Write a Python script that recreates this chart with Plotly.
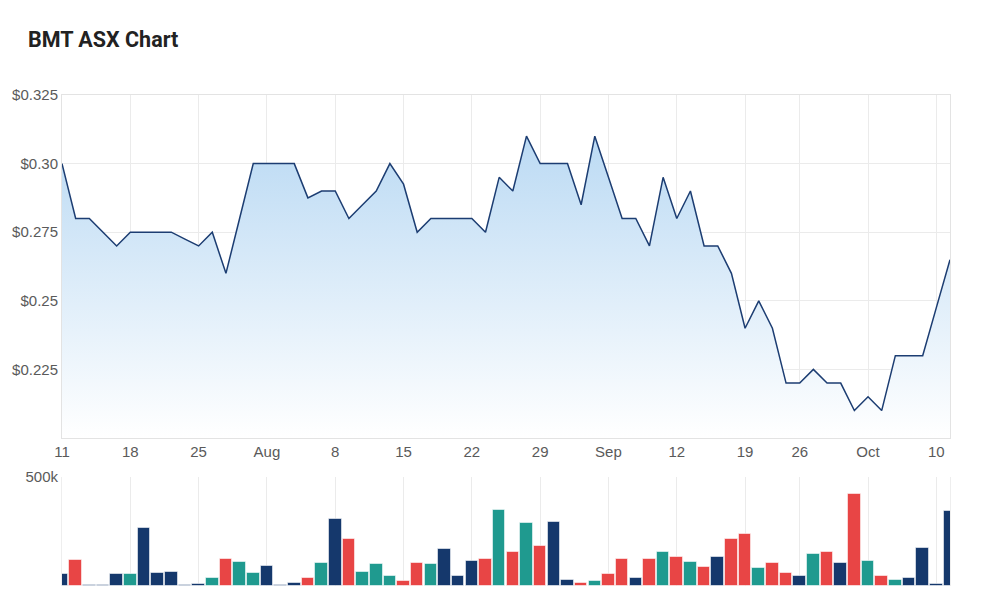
import plotly.graph_objects as go
import pandas as pd

# Trading days (ASX closed 22 Sep 2022)
dates = [d.strftime('%Y-%m-%d') for d in pd.bdate_range('2022-07-11', '2022-10-11')
         if d.strftime('%Y-%m-%d') != '2022-09-22']

price = [0.30, 0.28, 0.28, 0.275, 0.27, 0.275, 0.275, 0.275, 0.275, 0.2725,
         0.27, 0.275, 0.26, 0.28, 0.30, 0.30, 0.30, 0.30, 0.2875, 0.29,
         0.29, 0.28, 0.285, 0.29, 0.30, 0.2925, 0.275, 0.28, 0.28, 0.28,
         0.28, 0.275, 0.295, 0.29, 0.31, 0.30, 0.30, 0.30, 0.285, 0.31,
         0.295, 0.28, 0.28, 0.27, 0.295, 0.28, 0.29, 0.27, 0.27, 0.26,
         0.24, 0.25, 0.24, 0.22, 0.22, 0.225, 0.22, 0.22, 0.21, 0.215,
         0.21, 0.23, 0.23, 0.23, 0.2475, 0.265]

volume_k = [53, 120, 5, 5, 53, 53, 264, 58, 64, 3,
            8, 35, 124, 109, 58, 93, 3, 13, 39, 104,
            309, 214, 62, 102, 44, 22, 107, 102, 169, 44,
            114, 124, 349, 158, 290, 183, 295, 28, 13, 22,
            53, 124, 35, 124, 158, 134, 109, 88, 134, 214,
            239, 84, 104, 58, 48, 149, 154, 104, 421, 114,
            48, 28, 35, 174, 8, 344]

# n = navy, r = red, t = teal
vol_dir = ['n', 'r', 'n', 'n', 'n', 't', 'n', 'n', 'n', 'n',
           'n', 't', 'r', 't', 't', 'n', 'n', 'n', 'r', 't',
           'n', 'r', 't', 't', 't', 'r', 'r', 't', 'n', 'n',
           'n', 'r', 't', 'r', 't', 'r', 'n', 'n', 'r', 't',
           'r', 'r', 'n', 'r', 't', 'r', 't', 'r', 'n', 'r',
           'r', 't', 'r', 'r', 'n', 't', 'r', 'n', 'r', 't',
           'r', 't', 'n', 'n', 'n', 'n']

tick_dates = ['2022-07-11', '2022-07-18', '2022-07-25', '2022-08-01', '2022-08-08',
              '2022-08-15', '2022-08-22', '2022-08-29', '2022-09-05', '2022-09-12',
              '2022-09-19', '2022-09-26', '2022-10-03', '2022-10-10']
tick_labels = ['11', '18', '25', 'Aug', '8', '15', '22', '29', 'Sep', '12', '19', '26', 'Oct', '10']

price_ticks = [0.225, 0.25, 0.275, 0.30, 0.325]
price_labels = ['$0.225', '$0.25', '$0.275', '$0.30', '$0.325']

colmap = {'n': '#15386c', 'r': '#e84545', 't': '#1f9a8f'}

fig = go.Figure()
fig.add_trace(go.Scatter(
    x=dates, y=price, mode='lines',
    line=dict(color='#1c3d72', width=1.5),
    fill='tozeroy',
    fillgradient=dict(type='vertical',
                      colorscale=[[0, 'rgba(255,255,255,1)'], [1, 'rgba(178,213,242,1)']],
                      start=0.2, stop=0.325),
    xaxis='x', yaxis='y', hoverinfo='x+y'))
fig.add_trace(go.Bar(
    x=dates, y=[v * 1000 for v in volume_k],
    marker=dict(color=[colmap[c] for c in vol_dir],
                line=dict(color='rgba(255,255,255,0.55)', width=1)),
    width=0.92, xaxis='x2', yaxis='y2'))

grid = '#ebebeb'
tickfont = dict(family='Liberation Sans, Arial, sans-serif', size=15, color='#5a5a5a')
common_x = dict(type='category', categoryorder='array', categoryarray=dates,
                range=[0, len(dates) - 1], tickvals=tick_dates, ticktext=tick_labels,
                showgrid=True, gridcolor=grid, gridwidth=1, ticks='', tickfont=tickfont,
                zeroline=False, fixedrange=True)

fig.update_layout(
    width=1000, height=616,
    margin=dict(l=62, r=50, t=95, b=30),
    paper_bgcolor='white', plot_bgcolor='white',
    showlegend=False, bargap=0,
    title=dict(text='<b>BMT ASX Chart</b>', x=0.028, xref='container', xanchor='left',
               y=1 - 39 / 616, yref='container', yanchor='middle',
               font=dict(family='Roboto, Arial, sans-serif', size=21.5, color='#222222')),
    xaxis=dict(**common_x, anchor='y', showline=True, linecolor='#e3e3e3', mirror=True),
    xaxis2=dict(**common_x, anchor='y2', matches='x', showticklabels=False, showline=False),
    yaxis=dict(domain=[(586 - 438) / 491, 1], range=[0.2, 0.325],
               tickvals=price_ticks, ticktext=price_labels, tickfont=tickfont,
               showgrid=True, gridcolor=grid, zeroline=False, ticks='',
               showline=True, linecolor='#e3e3e3', mirror=True, fixedrange=True),
    yaxis2=dict(domain=[0, (586 - 477) / 491], range=[0, 500000],
                tickvals=[500000], ticktext=['500k'], tickfont=tickfont,
                showgrid=True, gridcolor=grid, zeroline=False, ticks='',
                showline=True, linecolor='#eeeeee', mirror=True, fixedrange=True),
)

fig.write_html('out.html')
